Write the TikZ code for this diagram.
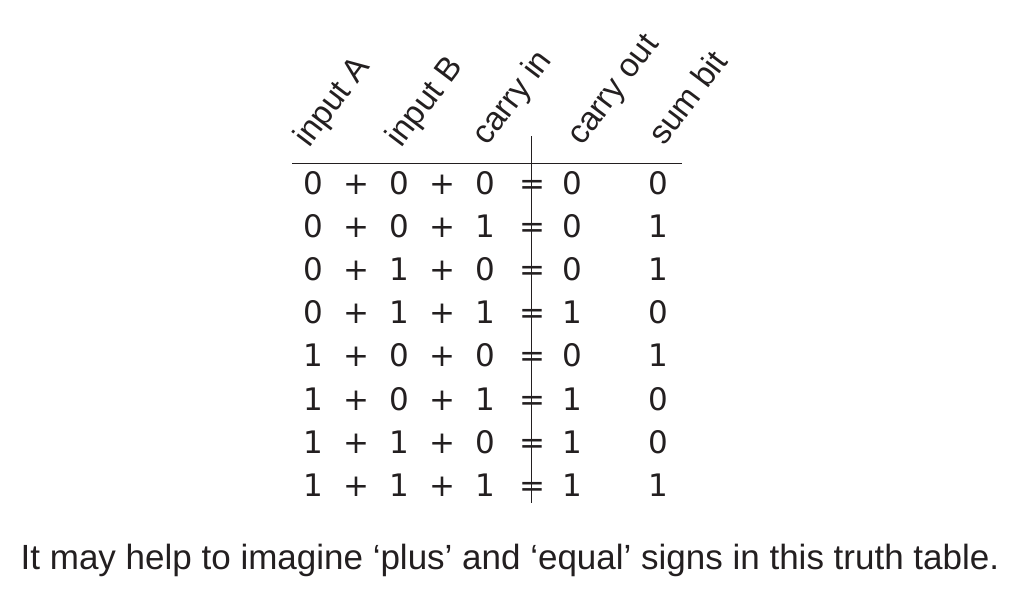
\documentclass[tikz,border=0pt]{standalone}
\usepackage{fontspec}
\setmainfont{Liberation Sans}
\newfontfamily\digitfont{DejaVu Sans}
\usepackage{tikz}
\usetikzlibrary{positioning}
\definecolor{tinta}{HTML}{231F20}
\tikzset{
	x=1pt, y=-1pt, % Un punto por pixel, eje y hacia abajo
	node distance=43.2pt, % Distancia entre celdas
	cell/.style={font=\digitfont\fontsize{31}{36}\selectfont, inner sep=0pt, text height=22pt, text depth=0pt, text=tinta}, % Celdas de la tabla
	header/.style={font=\fontsize{33}{38}\selectfont, inner sep=0pt, rotate=53, anchor=base west, text=tinta}, % Encabezados girados
	caption/.style={font=\fontsize{35}{40}\selectfont, inner sep=0pt, anchor=base, text=tinta}, % Texto inferior
	rule/.style={draw=tinta, line width=0.9pt} % Lineas de la tabla
}

\begin{document}
\begin{tikzpicture}
				\useasboundingbox (0,0) rectangle (1020,597);
				
				\node[cell] (a1) at (313,183) {0};
				\node[cell, right of=a1] (p1) {+};
				\node[cell, right of=p1] (b1) {0};
				\node[cell, right of=b1] (q1) {+};
				\node[cell, right of=q1] (c1) {0};
				\node[cell, right of=c1, xshift=3pt] (e1) {=};
				\node[cell, right of=e1, xshift=-3pt] (o1) {0};
				\node[cell, right of=o1, node distance=86.4pt] (s1) {0};
				
				\node[cell, below of=a1] (a2) {0};
				\node[cell, right of=a2] (p2) {+};
				\node[cell, right of=p2] (b2) {0};
				\node[cell, right of=b2] (q2) {+};
				\node[cell, right of=q2] (c2) {1};
				\node[cell, right of=c2, xshift=3pt] (e2) {=};
				\node[cell, right of=e2, xshift=-3pt] (o2) {0};
				\node[cell, right of=o2, node distance=86.4pt] (s2) {1};
				
				\node[cell, below of=a2] (a3) {0};
				\node[cell, right of=a3] (p3) {+};
				\node[cell, right of=p3] (b3) {1};
				\node[cell, right of=b3] (q3) {+};
				\node[cell, right of=q3] (c3) {0};
				\node[cell, right of=c3, xshift=3pt] (e3) {=};
				\node[cell, right of=e3, xshift=-3pt] (o3) {0};
				\node[cell, right of=o3, node distance=86.4pt] (s3) {1};
				
				\node[cell, below of=a3] (a4) {0};
				\node[cell, right of=a4] (p4) {+};
				\node[cell, right of=p4] (b4) {1};
				\node[cell, right of=b4] (q4) {+};
				\node[cell, right of=q4] (c4) {1};
				\node[cell, right of=c4, xshift=3pt] (e4) {=};
				\node[cell, right of=e4, xshift=-3pt] (o4) {1};
				\node[cell, right of=o4, node distance=86.4pt] (s4) {0};
				
				\node[cell, below of=a4] (a5) {1};
				\node[cell, right of=a5] (p5) {+};
				\node[cell, right of=p5] (b5) {0};
				\node[cell, right of=b5] (q5) {+};
				\node[cell, right of=q5] (c5) {0};
				\node[cell, right of=c5, xshift=3pt] (e5) {=};
				\node[cell, right of=e5, xshift=-3pt] (o5) {0};
				\node[cell, right of=o5, node distance=86.4pt] (s5) {1};
				
				\node[cell, below of=a5] (a6) {1};
				\node[cell, right of=a6] (p6) {+};
				\node[cell, right of=p6] (b6) {0};
				\node[cell, right of=b6] (q6) {+};
				\node[cell, right of=q6] (c6) {1};
				\node[cell, right of=c6, xshift=3pt] (e6) {=};
				\node[cell, right of=e6, xshift=-3pt] (o6) {1};
				\node[cell, right of=o6, node distance=86.4pt] (s6) {0};
				
				\node[cell, below of=a6] (a7) {1};
				\node[cell, right of=a7] (p7) {+};
				\node[cell, right of=p7] (b7) {1};
				\node[cell, right of=b7] (q7) {+};
				\node[cell, right of=q7] (c7) {0};
				\node[cell, right of=c7, xshift=3pt] (e7) {=};
				\node[cell, right of=e7, xshift=-3pt] (o7) {1};
				\node[cell, right of=o7, node distance=86.4pt] (s7) {0};
				
				\node[cell, below of=a7] (a8) {1};
				\node[cell, right of=a8] (p8) {+};
				\node[cell, right of=p8] (b8) {1};
				\node[cell, right of=b8] (q8) {+};
				\node[cell, right of=q8] (c8) {1};
				\node[cell, right of=c8, xshift=3pt] (e8) {=};
				\node[cell, right of=e8, xshift=-3pt] (o8) {1};
				\node[cell, right of=o8, node distance=86.4pt] (s8) {1};
				
				\node[header] (hA) at ([xshift=-4pt, yshift=34pt]a1) {input A};
				\node[header] (hB) at ([xshift=2pt, yshift=34pt]b1) {input B};
				\node[header] (hC) at ([xshift=2pt, yshift=36pt]c1) {carry in};
				\node[header] (hO) at ([xshift=10pt, yshift=36pt]o1) {carry out};
				\node[header] (hS) at ([xshift=6pt, yshift=36pt]s1) {sum bit};
				
				\coordinate (hl) at (292,163);
				\coordinate (hr) at (682,163);
				\coordinate (vt) at (531,136);
				\coordinate (vb) at (531,503);
				\draw[rule] (hl) -- (hr);
				\draw[rule] (vt) -- (vb);
				
				\node[caption] (cap) at (510,569) {It may help to imagine ‘plus’ and ‘equal’ signs in this truth table.};
			\end{tikzpicture}
\end{document}
